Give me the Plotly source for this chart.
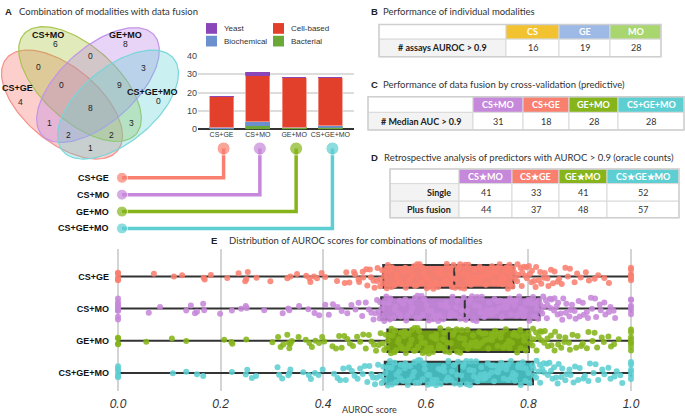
import numpy as np
import plotly.graph_objects as go

W, H = 685, 418

# ---------------- data ----------------
combos = ["CS+GE", "CS+MO", "GE+MO", "CS+GE+MO"]
bacterial = [0, 2, 1, 1]
biochemical = [1, 2, 0, 1]
cell_based = [17, 25, 27, 26]
yeast = [0, 2, 0, 0]
bar_tickvals = [0, 10, 20, 30, 40]

venn_labels = ["CS+GE", "CS+MO", "GE+MO", "CS+GE+MO"]
venn_counts = [4, 6, 8, 0, 0, 0, 3, 0, 9, 8, 1, 3, 2, 2, 1]

b_header = ["CS", "GE", "MO"]
b_label = "# assays AUROC > 0.9"
b_values = [16, 19, 28]

c_header = ["CS+MO", "CS+GE", "GE+MO", "CS+GE+MO"]
c_label = "# Median AUC > 0.9"
c_values = [31, 18, 28, 28]

d_header = ["CS★MO", "CS★GE", "GE★MO", "CS★GE★MO"]
d_labels = ["Single", "Plus fusion"]
d_single = [41, 33, 41, 52]
d_fusion = [44, 37, 48, 57]

auroc_cs_ge = [
    0, 0, 0, 0, 0, 0.070, 0.109, 0.125, 0.167, 0.169,
    0.181, 0.213, 0.235, 0.248, 0.250, 0.253, 0.270, 0.297, 0.330, 0.336,
    0.349, 0.367, 0.373, 0.375, 0.382, 0.388, 0.397, 0.404, 0.427, 0.442,
    0.445, 0.451, 0.460, 0.462, 0.469, 0.470, 0.477, 0.478, 0.484, 0.486,
    0.491, 0.493, 0.498, 0.500, 0.505, 0.506, 0.510, 0.511, 0.515, 0.516,
    0.518, 0.520, 0.524, 0.526, 0.531, 0.533, 0.534, 0.539, 0.543, 0.544,
    0.548, 0.552, 0.553, 0.557, 0.560, 0.561, 0.566, 0.568, 0.569, 0.574,
    0.577, 0.579, 0.583, 0.583, 0.588, 0.591, 0.593, 0.596, 0.601, 0.602,
    0.604, 0.608, 0.610, 0.613, 0.615, 0.619, 0.620, 0.624, 0.627, 0.629,
    0.633, 0.634, 0.638, 0.641, 0.643, 0.646, 0.648, 0.651, 0.652, 0.654,
    0.657, 0.658, 0.662, 0.665, 0.667, 0.668, 0.673, 0.675, 0.677, 0.680,
    0.682, 0.683, 0.688, 0.690, 0.692, 0.695, 0.697, 0.698, 0.702, 0.705,
    0.707, 0.709, 0.710, 0.714, 0.717, 0.719, 0.722, 0.724, 0.725, 0.729,
    0.732, 0.734, 0.735, 0.739, 0.742, 0.744, 0.745, 0.749, 0.750, 0.754,
    0.756, 0.757, 0.760, 0.761, 0.763, 0.765, 0.766, 0.768, 0.769, 0.770,
    0.772, 0.774, 0.778, 0.779, 0.780, 0.785, 0.787, 0.788, 0.791, 0.794,
    0.796, 0.797, 0.801, 0.803, 0.806, 0.807, 0.811, 0.814, 0.815, 0.820,
    0.823, 0.825, 0.830, 0.832, 0.837, 0.839, 0.844, 0.848, 0.851, 0.857,
    0.860, 0.865, 0.872, 0.877, 0.881, 0.890, 0.895, 0.902, 0.912, 0.918,
    0.929, 0.936, 0.948, 0.957, 1.0, 1.0, 1.0, 1.0, 1.0, 1.0,
]
auroc_cs_mo = [
    0, 0, 0, 0, 0, 0, 0, 0, 0, 0.060,
    0.082, 0.133, 0.142, 0.150, 0.154, 0.166, 0.168, 0.199, 0.222, 0.240,
    0.249, 0.251, 0.285, 0.321, 0.332, 0.334, 0.353, 0.371, 0.383, 0.392,
    0.404, 0.411, 0.419, 0.428, 0.436, 0.447, 0.455, 0.463, 0.469, 0.476,
    0.483, 0.489, 0.494, 0.498, 0.502, 0.505, 0.508, 0.510, 0.511, 0.512,
    0.514, 0.518, 0.519, 0.523, 0.528, 0.530, 0.531, 0.537, 0.540, 0.541,
    0.547, 0.549, 0.551, 0.556, 0.560, 0.562, 0.564, 0.570, 0.571, 0.574,
    0.579, 0.582, 0.584, 0.588, 0.592, 0.594, 0.597, 0.601, 0.604, 0.606,
    0.611, 0.614, 0.616, 0.620, 0.624, 0.627, 0.629, 0.634, 0.636, 0.639,
    0.643, 0.647, 0.649, 0.652, 0.657, 0.659, 0.662, 0.667, 0.670, 0.674,
    0.678, 0.680, 0.684, 0.687, 0.690, 0.692, 0.696, 0.699, 0.700, 0.705,
    0.707, 0.709, 0.714, 0.716, 0.718, 0.723, 0.724, 0.728, 0.730, 0.734,
    0.737, 0.739, 0.743, 0.745, 0.748, 0.752, 0.755, 0.757, 0.760, 0.764,
    0.766, 0.768, 0.773, 0.775, 0.777, 0.782, 0.784, 0.786, 0.791, 0.793,
    0.795, 0.800, 0.802, 0.804, 0.809, 0.811, 0.813, 0.817, 0.819, 0.821,
    0.823, 0.824, 0.827, 0.829, 0.830, 0.834, 0.836, 0.837, 0.842, 0.843,
    0.845, 0.850, 0.851, 0.855, 0.857, 0.858, 0.863, 0.866, 0.868, 0.873,
    0.874, 0.880, 0.882, 0.885, 0.890, 0.892, 0.898, 0.900, 0.906, 0.908,
    0.914, 0.916, 0.922, 0.924, 0.930, 0.932, 0.939, 0.941, 0.948, 0.950,
    0.957, 0.960, 0.966, 0.969, 1.0, 1.0, 1.0, 1.0, 1.0, 1.0,
]
auroc_ge_mo = [
    0, 0, 0, 0, 0.055, 0.105, 0.133, 0.207, 0.221, 0.223,
    0.250, 0.301, 0.312, 0.317, 0.322, 0.330, 0.333, 0.334, 0.336, 0.339,
    0.352, 0.366, 0.373, 0.378, 0.385, 0.392, 0.398, 0.402, 0.418, 0.425,
    0.431, 0.436, 0.441, 0.447, 0.452, 0.458, 0.466, 0.472, 0.478, 0.483,
    0.489, 0.494, 0.499, 0.503, 0.508, 0.512, 0.516, 0.519, 0.522, 0.524,
    0.526, 0.528, 0.532, 0.533, 0.535, 0.539, 0.540, 0.542, 0.546, 0.547,
    0.551, 0.552, 0.554, 0.558, 0.559, 0.561, 0.565, 0.566, 0.569, 0.572,
    0.573, 0.577, 0.578, 0.580, 0.584, 0.585, 0.587, 0.590, 0.592, 0.594,
    0.598, 0.599, 0.603, 0.604, 0.606, 0.610, 0.611, 0.614, 0.616, 0.620,
    0.621, 0.625, 0.626, 0.628, 0.633, 0.634, 0.636, 0.638, 0.642, 0.644,
    0.646, 0.649, 0.653, 0.655, 0.660, 0.661, 0.666, 0.667, 0.670, 0.675,
    0.676, 0.681, 0.682, 0.687, 0.689, 0.692, 0.697, 0.698, 0.703, 0.704,
    0.709, 0.710, 0.715, 0.716, 0.722, 0.723, 0.728, 0.729, 0.734, 0.735,
    0.740, 0.741, 0.746, 0.748, 0.751, 0.756, 0.757, 0.762, 0.763, 0.768,
    0.770, 0.773, 0.778, 0.779, 0.784, 0.785, 0.790, 0.792, 0.795, 0.800,
    0.802, 0.803, 0.808, 0.809, 0.810, 0.815, 0.816, 0.820, 0.823, 0.825,
    0.826, 0.831, 0.832, 0.837, 0.838, 0.844, 0.845, 0.851, 0.852, 0.858,
    0.860, 0.864, 0.870, 0.872, 0.879, 0.881, 0.886, 0.893, 0.896, 0.903,
    0.906, 0.914, 0.917, 0.925, 0.929, 0.934, 0.943, 0.947, 0.956, 0.961,
    0.967, 0.976, 1.0, 1.0, 1.0, 1.0, 1.0, 1.0, 1.0, 1.0,
]
auroc_cs_ge_mo = [
    0, 0, 0, 0, 0, 0, 0.107, 0.133, 0.154, 0.166,
    0.222, 0.249, 0.252, 0.261, 0.269, 0.311, 0.314, 0.320, 0.332, 0.334,
    0.336, 0.361, 0.372, 0.376, 0.384, 0.391, 0.399, 0.421, 0.428, 0.433,
    0.439, 0.444, 0.450, 0.456, 0.461, 0.467, 0.472, 0.477, 0.481, 0.486,
    0.490, 0.494, 0.497, 0.501, 0.504, 0.507, 0.511, 0.514, 0.517, 0.519,
    0.521, 0.525, 0.526, 0.530, 0.533, 0.534, 0.539, 0.542, 0.543, 0.548,
    0.550, 0.551, 0.556, 0.559, 0.560, 0.565, 0.567, 0.569, 0.574, 0.577,
    0.578, 0.580, 0.585, 0.587, 0.589, 0.594, 0.597, 0.598, 0.603, 0.604,
    0.607, 0.611, 0.613, 0.615, 0.620, 0.621, 0.625, 0.629, 0.630, 0.635,
    0.636, 0.640, 0.643, 0.644, 0.649, 0.651, 0.655, 0.656, 0.661, 0.663,
    0.667, 0.669, 0.673, 0.674, 0.679, 0.680, 0.685, 0.686, 0.688, 0.693,
    0.694, 0.698, 0.701, 0.702, 0.707, 0.708, 0.712, 0.715, 0.716, 0.721,
    0.722, 0.727, 0.728, 0.732, 0.733, 0.738, 0.740, 0.741, 0.746, 0.747,
    0.752, 0.753, 0.757, 0.760, 0.761, 0.766, 0.767, 0.770, 0.774, 0.775,
    0.780, 0.781, 0.785, 0.788, 0.789, 0.794, 0.795, 0.800, 0.802, 0.808,
    0.810, 0.811, 0.815, 0.816, 0.820, 0.822, 0.823, 0.827, 0.830, 0.831,
    0.836, 0.838, 0.841, 0.844, 0.847, 0.850, 0.854, 0.857, 0.859, 0.864,
    0.866, 0.872, 0.874, 0.880, 0.882, 0.888, 0.891, 0.897, 0.900, 0.907,
    0.910, 0.917, 0.920, 0.927, 0.931, 0.936, 0.944, 0.948, 0.956, 0.960,
    0.968, 0.972, 0.979, 0.983, 1.0, 1.0, 1.0, 1.0, 1.0, 1.0,
]
e_tickvals = [0.0, 0.2, 0.4, 0.6, 0.8, 1.0]

# ---------------- styles / layout constants ----------------
SANS = "Lato"
ARIAL = "Liberation Sans"
COMBO_COL = {"CS+GE": "#f9806f", "CS+MO": "#c688da", "GE+MO": "#86b51b", "CS+GE+MO": "#5dcfd3"}
BOX_FILL = {"CS+GE": "#f27f71", "CS+MO": "#bd82d2", "GE+MO": "#749e12", "CS+GE+MO": "#43b7b9"}
TYPE_COL = {"Yeast": "#8a45b9", "Cell-based": "#e3402c", "Biochemical": "#6c8fce", "Bacterial": "#6aa837"}
MOD_COL = {"CS": "#f2c230", "GE": "#9db9e6", "MO": "#a9d66f"}

# venn ellipse geometry in pixels: cx, cy, semi-major, semi-minor, angle
venn_geom = [(62, 102, 73, 38, 41), (80, 81, 76, 38, 43), (98, 82, 76, 38, -43), (118, 102, 73, 38, -41)]
venn_fill = ["rgba(248,118,109,0.35)", "rgba(160,190,50,0.33)", "rgba(185,125,228,0.33)", "rgba(95,208,214,0.33)"]
venn_line = ["#f59088", "#a8c552", "#c194ea", "#78d6da"]
venn_label_pos = [(17, 85), (48, 31), (125, 31), (152, 89)]
venn_count_pos = [(20, 99), (55, 40), (125, 40), (158, 98), (38, 64), (90, 52), (143, 65), (61, 82),
                  (119, 82), (90, 106), (49, 121), (131, 121), (68, 133), (111, 133), (90, 146)]

BAR_DOM = (198, 354)
BAR_RANGE = (-0.65, 3.65)
BAR_Y = (52, 127.3)

E_DOM = (110, 650)
E_X0, E_X1 = 118, 631          # pixel of AUROC 0 and 1
E_Y = (250, 395)

def bar_px(i):
    return BAR_DOM[0] + (i - BAR_RANGE[0]) / (BAR_RANGE[1] - BAR_RANGE[0]) * (BAR_DOM[1] - BAR_DOM[0])

def py(y):
    return 1 - y / H

shapes, ann = [], []

def text(x, y, s, size=9, color="#333333", family=SANS, bold=False, xanchor="left"):
    ann.append(dict(x=x, y=y, xref="x", yref="y", text=(f"<b>{s}</b>" if bold else s),
                    showarrow=False, xanchor=xanchor, yanchor="middle",
                    font=dict(size=size, color=color, family=family)))

def draw_table(x0, y0, widths, heights, rows):
    y = y0
    for row, hgt in zip(rows, heights):
        x = x0
        for (txt, fill, fc, bold, align), w in zip(row, widths):
            shapes.append(dict(type="rect", xref="x", yref="y", x0=x, x1=x + w, y0=y, y1=y + hgt,
                               fillcolor=fill, line=dict(color="#d9d9d9", width=1)))
            if txt != "":
                if align == "right":
                    text(x + w - 6, y + hgt / 2, txt, size=9, color=fc, bold=bold, xanchor="right")
                else:
                    text(x + w / 2, y + hgt / 2, txt, size=9, color=fc, bold=bold, xanchor="center")
            x += w
        y += hgt
    shapes.append(dict(type="rect", xref="x", yref="y", x0=x0, x1=x0 + sum(widths), y0=y0,
                       y1=y0 + sum(heights), line=dict(color="#cfcfcf", width=1.5)))

fig = go.Figure()

# ---------------- A: venn ----------------
t = np.linspace(0, 2 * np.pi, 160)
for (cx, cy, a, b, deg), fc, lc in zip(venn_geom, venn_fill, venn_line):
    th = np.radians(deg)
    ex = cx + a * np.cos(t) * np.cos(th) - b * np.sin(t) * np.sin(th)
    ey = cy + a * np.cos(t) * np.sin(th) + b * np.sin(t) * np.cos(th)
    fig.add_trace(go.Scatter(x=ex, y=ey, mode="lines", fill="toself", fillcolor=fc,
                             line=dict(color=lc, width=1.2), xaxis="x", yaxis="y",
                             hoverinfo="skip", showlegend=False))
for lab, (x, y) in zip(venn_labels, venn_label_pos):
    text(x, y, lab, size=9, color="#111111", family=ARIAL, bold=True, xanchor="center")
for cnt, (x, y) in zip(venn_counts, venn_count_pos):
    text(x, y, str(cnt), size=8.5, color="#222222", family=ARIAL, xanchor="center")

# ---------------- A: stacked bars ----------------
for nm, vals in [("Bacterial", bacterial), ("Biochemical", biochemical),
                 ("Cell-based", cell_based), ("Yeast", yeast)]:
    fig.add_trace(go.Bar(x=combos, y=vals, name=nm, marker=dict(color=TYPE_COL[nm],
                         line=dict(color="#f3978b" if nm == "Cell-based" else TYPE_COL[nm], width=0.8)),
                         xaxis="x2", yaxis="y2", showlegend=False, hoverinfo="skip"))
legend_pos = [("Yeast", 206, 24), ("Cell-based", 273, 24), ("Biochemical", 206, 37), ("Bacterial", 273, 37)]
for nm, x, y in legend_pos:
    shapes.append(dict(type="rect", xref="x", yref="y", x0=x, x1=x + 11, y0=y - 5.5, y1=y + 5.5,
                       fillcolor=TYPE_COL[nm], line=dict(width=0)))
    text(x + 16, y, nm, size=8, color="#333333", family=ARIAL)

# connectors
row_y0, row_dy, left_x, top_y = 177, 17.3, 122, 147
for i, nm in enumerate(combos):
    cx = bar_px(i) + 2
    ry = row_y0 + i * row_dy
    fig.add_trace(go.Scatter(x=[left_x, cx, cx], y=[ry, ry, top_y], mode="lines",
                             line=dict(color=COMBO_COL[nm], width=3.5), xaxis="x", yaxis="y",
                             hoverinfo="skip", showlegend=False))
    fig.add_trace(go.Scatter(x=[left_x, cx], y=[ry, top_y], mode="markers",
                             marker=dict(color=COMBO_COL[nm], size=[11, 13]), xaxis="x", yaxis="y",
                             hoverinfo="skip", showlegend=False))
    text(111, ry, nm, size=9, color="#111111", family=ARIAL, bold=True, xanchor="right")

# ---------------- tables ----------------
W_ = "white"
G_ = "#f3f3f3"
draw_table(379, 20, [127, 53, 51, 51], [15, 18], [
    [("", W_, "#333", False, "center")] + [(h, MOD_COL[h], "white", True, "center") for h in b_header],
    [(b_label, G_, "#222", True, "center")] + [(str(v), W_, "#333", False, "center") for v in b_values],
])
draw_table(368, 94, [105, 50, 46, 49, 66], [16, 18], [
    [("", W_, "#333", False, "center")] + [(h, COMBO_COL[h], "white", True, "center") for h in c_header],
    [(c_label, G_, "#222", True, "center")] + [(str(v), W_, "#333", False, "center") for v in c_values],
])
d_colors = [COMBO_COL["CS+MO"], COMBO_COL["CS+GE"], COMBO_COL["GE+MO"], COMBO_COL["CS+GE+MO"]]
draw_table(390, 168, [69, 53, 47, 48, 72], [15, 18, 17], [
    [("", W_, "#333", False, "center")] + [(h, c, "white", True, "center") for h, c in zip(d_header, d_colors)],
    [(d_labels[0], G_, "#222", True, "right")] + [(str(v), W_, "#333", False, "center") for v in d_single],
    [(d_labels[1], G_, "#222", True, "right")] + [(str(v), W_, "#333", False, "center") for v in d_fusion],
])

# ---------------- E: box + points ----------------
for nm, vals in zip(combos, [auroc_cs_ge, auroc_cs_mo, auroc_ge_mo, auroc_cs_ge_mo]):
    # box and whiskers
    fig.add_trace(go.Box(x=vals, y=[nm] * len(vals), name=nm, orientation="h",
                         boxpoints=False, width=0.7,
                         line=dict(color="#333333", width=2), fillcolor=BOX_FILL[nm],
                         whiskerwidth=0.35, xaxis="x3", yaxis="y3", showlegend=False, hoverinfo="skip"))
    # jittered sample points (box itself hidden)
    fig.add_trace(go.Box(x=vals, y=[nm] * len(vals), name=nm, orientation="h",
                         boxpoints="all", jitter=1.0, pointpos=0, width=0.8,
                         marker=dict(color=COMBO_COL[nm], size=6, opacity=0.88),
                         line=dict(color="rgba(0,0,0,0)", width=0), fillcolor="rgba(0,0,0,0)",
                         xaxis="x3", yaxis="y3", showlegend=False, hoverinfo="skip"))

# ---------------- titles ----------------
for letter, lx, tx, y, title in [
    ("A", 3, 17, 7, "Combination of modalities with data fusion"),
    ("B", 369, 381, 7, "Performance of individual modalities"),
    ("C", 369, 381, 81, "Performance of data fusion by cross-validation (predictive)"),
    ("D", 369, 382, 156, "Retrospective analysis of predictors with AUROC > 0.9 (oracle counts)"),
    ("E", 209, 227, 241, "Distribution of AUROC scores for combinations of modalities"),
]:
    text(lx, y, letter, size=9.5, color="#222222", family=ARIAL, bold=True)
    text(tx, y, title, size=9.5, color="#333333", family=SANS)
text(369, 414, "AUROC score", size=9, color="#333333", family=SANS, xanchor="center")

e_scale = E_X1 - E_X0
fig.update_layout(
    width=W, height=H, margin=dict(l=0, r=0, t=0, b=0),
    paper_bgcolor="white", plot_bgcolor="rgba(0,0,0,0)", showlegend=False,
    barmode="stack", bargap=0.34, boxmode="overlay",
    font=dict(family=SANS, color="#333333"),
    xaxis=dict(domain=[0, 1], range=[0, W], visible=False),
    yaxis=dict(domain=[0, 1], range=[H, 0], visible=False),
    xaxis2=dict(domain=[BAR_DOM[0] / W, BAR_DOM[1] / W], range=list(BAR_RANGE), anchor="y2",
                categoryorder="array", categoryarray=combos, showgrid=False, showline=False,
                ticks="", tickangle=0, tickfont=dict(size=7, family=ARIAL, color="#333333")),
    yaxis2=dict(domain=[py(BAR_Y[1]), py(BAR_Y[0])], range=[0, 40], anchor="x2",
                tickvals=bar_tickvals, showgrid=True, gridcolor="#dcdcdc", gridwidth=1.5,
                zeroline=True, zerolinecolor="#333333", zerolinewidth=2, showline=False, ticks="",
                tickfont=dict(size=9, family=ARIAL, color="#444444")),
    xaxis3=dict(domain=[E_DOM[0] / W, E_DOM[1] / W],
                range=[(E_DOM[0] - E_X0) / e_scale, (E_DOM[1] - E_X0) / e_scale], anchor="y3",
                tickvals=e_tickvals, tickformat=".1f", showgrid=True, gridcolor="#d4d4d4", gridwidth=1.5,
                zeroline=False, showline=False, ticks="", ticklabelstandoff=4,
                tickfont=dict(size=12, family=ARIAL, color="#333333", style="italic")),
    yaxis3=dict(domain=[py(E_Y[1]), py(E_Y[0])], range=[-0.545, 3.85], anchor="x3",
                categoryorder="array", categoryarray=combos[::-1], showgrid=False, showline=False,
                zeroline=False, ticks="", tickfont=dict(size=9, family=ARIAL, color="#111111", weight="bold")),
    shapes=shapes, annotations=ann,
)

fig.write_html("out.html", config={"displayModeBar": False},
               post_script="document.body.style.margin='0';")
